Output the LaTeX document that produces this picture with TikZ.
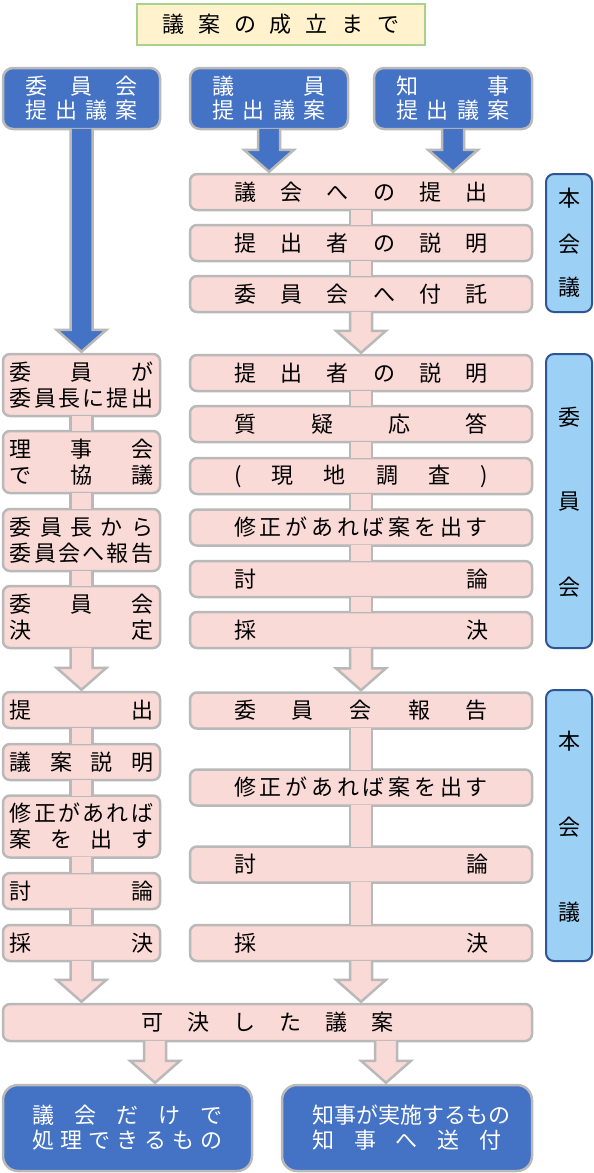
\documentclass[tikz,border=0pt]{standalone}
\usepackage{fontspec}
\newfontfamily\jp{Noto Sans CJK JP}
\usetikzlibrary{calc}
\definecolor{pinkfill}{RGB}{250,218,215}
\definecolor{edgegrey}{RGB}{185,185,185}
\definecolor{boxblue}{RGB}{68,114,196}
\definecolor{sideblue}{RGB}{157,208,245}
\definecolor{sideedge}{RGB}{47,85,151}
\definecolor{titlefill}{RGB}{255,242,204}
\definecolor{titleedge}{RGB}{169,209,142}
\def\spreadloop#1#2\spreadend{#1\if\relax\detokenize{#2}\relax\else\hfill\spreadloop#2\spreadend\fi}
\newcommand\spread[2]{\makebox[#1][s]{\spreadloop#2\spreadend}}
\tikzset{
  pinkbox/.style={draw=edgegrey, fill=pinkfill, line width=2.5pt, rounded corners=7pt, inner sep=0pt,
    font=\jp\fontsize{22}{26}\selectfont, align=center},
  rbox/.style={pinkbox, minimum width=342pt, minimum height=36pt},
  lbox/.style={pinkbox, minimum width=157pt, minimum height=36pt},
  lboxtwo/.style={lbox, minimum height=62pt},
  bluebox/.style={draw=edgegrey, fill=boxblue, line width=2.5pt, rounded corners=10pt, text=white, inner sep=0pt,
    font=\jp\fontsize{22}{24}\selectfont, align=center},
  sidebox/.style={draw=sideedge, fill=sideblue, line width=2pt, rounded corners=8pt, minimum width=46pt, inner sep=0pt},
  sidechar/.style={font=\jp\fontsize{22}{24}\selectfont, inner sep=0pt},
  titlebox/.style={draw=titleedge, fill=titlefill, line width=2.5pt, minimum width=288pt, minimum height=41pt,
    inner sep=0pt, font=\jp\fontsize{22}{24}\selectfont},
  conn/.style={draw=edgegrey, line width=2.5pt, line join=miter},
}
\newcommand\stemlink[2]{%
  \fill[pinkfill] let \p1=(#1.south), \p2=(#2.north) in (\x1-11pt,\y1+1.3pt) rectangle (\x1+11pt,\y2-1.3pt);
  \draw[conn] let \p1=(#1.south), \p2=(#2.north) in (\x1-11pt,\y1+1.3pt) -- (\x1-11pt,\y2-1.3pt)
     (\x1+11pt,\y1+1.3pt) -- (\x1+11pt,\y2-1.3pt);}
\newcommand\blockarrow[3]{%
  \path[fill=#1, conn] let \p1=(#2), \p2=(#3.north) in (\x1-11pt,\y1+1.3pt) -- (\x1-11pt,\y2+23pt)
     -- (\x1-25pt,\y2+23pt) -- (\x1,\y2+1pt) -- (\x1+25pt,\y2+23pt) -- (\x1+11pt,\y2+23pt) -- (\x1+11pt,\y1+1.3pt);}
\begin{document}
\begin{tikzpicture}[x=1pt,y=-1pt]
\useasboundingbox (0,0) rectangle (594,1173);
% title
\node[titlebox] (title) at (281,24.5) {\spread{237pt}{議案の成立まで}};
% top blue boxes
\node[bluebox, minimum width=157pt, minimum height=61pt] (b1) at (81.5,98.5) {\spread{113pt}{委員会}\\\spread{113pt}{提出議案}};
\node[bluebox, minimum width=158pt, minimum height=61pt] (b2) at (269,98.5) {\spread{113pt}{議員}\\\spread{113pt}{提出議案}};
\node[bluebox, minimum width=158pt, minimum height=61pt] (b3) at (453,98.5) {\spread{113pt}{知事}\\\spread{113pt}{提出議案}};
% right column
\node[rbox] (r1) at (361,192) {\spread{254pt}{議会への提出}};
\node[rbox] (r2) at (361,243) {\spread{254pt}{提出者の説明}};
\node[rbox] (r3) at (361,294) {\spread{254pt}{委員会へ付託}};
\node[rbox] (r4) at (361,373) {\spread{254pt}{提出者の説明}};
\node[rbox] (r5) at (361,424) {\spread{254pt}{質疑応答}};
\node[rbox] (r6) at (361,476) {\spread{254pt}{(現地調査)}};
\node[rbox] (r7) at (361,527.5) {\spread{254pt}{修正があれば案を出す}};
\node[rbox] (r8) at (361,579) {\spread{254pt}{討論}};
\node[rbox] (r9) at (361,630) {\spread{254pt}{採決}};
\node[rbox] (r10) at (361,710.5) {\spread{254pt}{委員会報告}};
\node[rbox] (r11) at (361,787.5) {\spread{254pt}{修正があれば案を出す}};
\node[rbox] (r12) at (361,864.5) {\spread{254pt}{討論}};
\node[rbox] (r13) at (361,943) {\spread{254pt}{採決}};
% left column
\node[lboxtwo] (l1) at (81.5,385) {\spread{143.5pt}{委員が}\\\spread{143.5pt}{委員長に提出}};
\node[lboxtwo] (l2) at (81.5,462) {\spread{143.5pt}{理事会}\\\spread{143.5pt}{で協議}};
\node[lboxtwo] (l3) at (81.5,540) {\spread{143.5pt}{委員長から}\\\spread{143.5pt}{委員会へ報告}};
\node[lboxtwo] (l4) at (81.5,617) {\spread{143.5pt}{委員会}\\\spread{143.5pt}{決定}};
\node[lbox] (l5) at (81.5,710) {\spread{143.5pt}{提出}};
\node[lbox] (l6) at (81.5,762) {\spread{143.5pt}{議案説明}};
\node[lboxtwo] (l7) at (81.5,826.5) {\spread{143.5pt}{修正があれば}\\\spread{143.5pt}{案を出す}};
\node[lbox] (l8) at (81.5,891) {\spread{143.5pt}{討論}};
\node[lbox] (l9) at (81.5,943) {\spread{143.5pt}{採決}};
% passed bills
\node[pinkbox, minimum width=529pt, minimum height=37pt] (k) at (267.5,1022.5) {\spread{252pt}{可決した議案}};
% bottom blue boxes
\node[bluebox, rounded corners=15pt, minimum width=249pt, minimum height=86pt, font=\jp\fontsize{22}{25}\selectfont] (d1) at (127.5,1128) {\spread{191pt}{議会だけで}\\\spread{191pt}{処理できるもの}};
\node[bluebox, rounded corners=15pt, minimum width=250pt, minimum height=86pt, font=\jp\fontsize{22}{25}\selectfont] (d2) at (407,1128) {\spread{189pt}{知事が実施するもの}\\\spread{189pt}{知事へ送付}};
% side labels
\node[sidebox, minimum height=138pt] (s1) at (569,243) {};
\node[sidechar] (s1a) at (569,198) {本};
\node[sidechar] (s1b) at (569,244) {会};
\node[sidechar] (s1c) at (569,287) {議};
\node[sidebox, minimum height=294pt] (s2) at (569,501) {};
\node[sidechar] (s2a) at (569,417) {委};
\node[sidechar] (s2b) at (569,502) {員};
\node[sidechar] (s2c) at (569,587) {会};
\node[sidebox, minimum height=271pt] (s3) at (569,825.5) {};
\node[sidechar] (s3a) at (569,741) {本};
\node[sidechar] (s3b) at (569,827) {会};
\node[sidechar] (s3c) at (569,912) {議};
% stems
\stemlink{r1}{r2}\stemlink{r2}{r3}
\stemlink{r4}{r5}\stemlink{r5}{r6}\stemlink{r6}{r7}\stemlink{r7}{r8}\stemlink{r8}{r9}
\stemlink{r10}{r11}\stemlink{r11}{r12}\stemlink{r12}{r13}
\stemlink{l1}{l2}\stemlink{l2}{l3}\stemlink{l3}{l4}
\stemlink{l5}{l6}\stemlink{l6}{l7}\stemlink{l7}{l8}\stemlink{l8}{l9}
% block arrows
\blockarrow{boxblue}{b1.south}{l1}
\blockarrow{boxblue}{b2.south}{r1}
\blockarrow{boxblue}{b3.south}{r1}
\blockarrow{pinkfill}{r3.south}{r4}
\blockarrow{pinkfill}{l4.south}{l5}
\blockarrow{pinkfill}{r9.south}{r10}
\blockarrow{pinkfill}{l9.south}{k}
\blockarrow{pinkfill}{r13.south}{k}
\blockarrow{pinkfill}{[xshift=-112.5pt]k.south}{d1}
\blockarrow{pinkfill}{[xshift=118.5pt]k.south}{d2}
\end{tikzpicture}
\end{document}
